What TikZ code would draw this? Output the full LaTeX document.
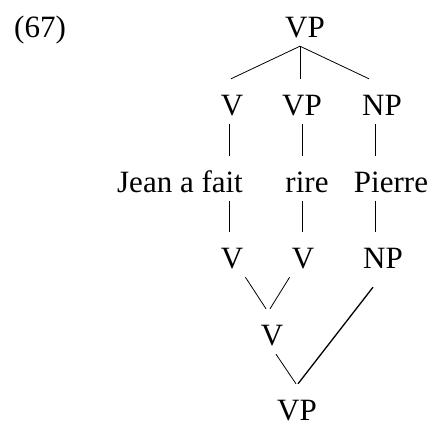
\documentclass[tikz,border=0pt]{standalone}
\usepackage{fontspec}
\setmainfont{Liberation Serif}
\usepackage{tikz}

\tikzset{
  cat/.style={anchor=base, inner sep=2pt, text height=34pt, text depth=7pt,
    font=\fontsize{31}{36}\selectfont},
  branch/.style={line width=0.8pt},
}

\begin{document}
\begin{tikzpicture}[x=1pt,y=-1pt]
  \useasboundingbox (0,0) rectangle (433,423);
  \node[cat,anchor=base west] (ex) at (12,37) {(67)};
  % upper tree
  \node[cat] (vp0) at (305,37) {VP};
  \node[cat] (v1) at (232,115) {V};
  \node[cat] (vp1) at (302,115) {VP};
  \node[cat] (np1) at (382,115) {NP};
  \node[cat] (jean) at (180,192) {Jean a fait};
  \node[cat] (rire) at (307,192) {rire};
  \node[cat] (pierre) at (391,192) {Pierre};
  % lower tree
  \node[cat] (v3a) at (232,268) {V};
  \node[cat] (v3b) at (303,268) {V};
  \node[cat] (np3) at (383,268) {NP};
  \node[cat] (v4) at (272,345) {V};
  \node[cat] (vp5) at (297,420) {VP};

  \draw[branch] ([xshift=-5pt]vp0.south) -- ([xshift=-1pt]v1.north);
  \draw[branch] ([xshift=-5pt]vp0.south) -- ([xshift=-2pt]vp1.north);
  \draw[branch] ([xshift=-5pt]vp0.south) -- ([xshift=-13pt]np1.north);
  \draw[branch] ([xshift=-3pt]v1.south) -- ([xshift=-3pt]v1 |- jean.north);
  \draw[branch] (vp1.south) -- (vp1 |- rire.north);
  \draw[branch] ([xshift=-7pt]np1.south) -- ([xshift=-7pt]np1 |- pierre.north);
  \draw[branch] ([xshift=-3pt]v1 |- jean.south) -- ([xshift=-3pt]v3a.north);
  \draw[branch] (vp1 |- rire.south) -- ([xshift=-1pt]v3b.north);
  \draw[branch] ([xshift=-7pt]np1 |- pierre.south) -- ([xshift=-8pt]np3.north);
  \draw[branch] (v3a.south east) -- ([xshift=-6pt]v4.north);
  \draw[branch] (v3b.south west) -- ([xshift=-2pt]v4.north);
  \draw[branch] ([xshift=4pt]v4.south) -- ([xshift=-1pt]vp5.north);
  \draw[line width=1.3pt] ([xshift=-10pt,yshift=-10pt]np3.south) -- ([xshift=1pt]vp5.north);
\end{tikzpicture}
\end{document}
